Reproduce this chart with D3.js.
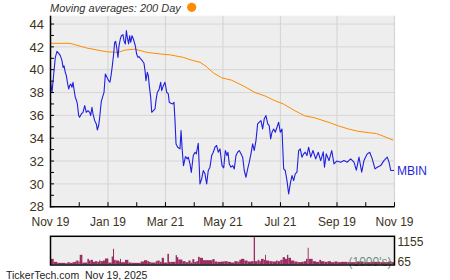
<!DOCTYPE html>
<html><head><meta charset="utf-8">
<script src="https://cdn.jsdelivr.net/npm/d3@7"></script>
<style>
body{margin:0;background:#fff;}
svg{display:block;font-family:"Liberation Sans",Arial,sans-serif;}
</style></head>
<body>
<svg id="c" width="450" height="280"></svg>
<script>
// ---- data (days since 2024-11-19) ----
const priceDays = [0,1.6,3.4,5.1,6.9,8.7,10.4,12.2,13.3,14.3,15.7,16.8,17.9,19.3,20.3,21.4,22.8,23.9,24.9,26.3,27.4,28.5,29.9,30.9,32.7,34.5,36.3,38.0,39.8,41.6,42.6,44.0,45.1,46.9,48.6,49.7,51.1,52.2,53.9,55.7,56.8,58.2,59.9,61.7,63.1,64.5,65.6,67.0,68.1,69.1,70.2,71.6,72.7,74.1,75.2,76.9,78.0,79.4,80.5,81.5,82.9,84.0,85.1,86.5,87.9,90.0,91.4,92.8,
93.9,95.7,97.4,99.2,100.3,101.3,102.7,103.8,104.8,106.3,107.4,109.1,110.9,111.9,113.3,115.1,116.9,118.0,119.7,121.5,123.3,125.0,126.0,127.9,129.7,131.0,132.1,133.2,135.0,137.4,138.5,139.8,141.1,143.2,145.1,146.2,148.0,149.4,151.5,153.3,154.7,156.8,158.6,160.4,162.1,163.9,165.7,167.4,169.2,171.0,172.7,174.5,176.3,178.0,179.8,182.0,183.8,185.5,187.3,188.3,189.7,191.5,193.3,195.0,196.8,198.6,200.3,202.1,203.9,205.6,207.4,209.2,210.9,212.7,214.5,216.2,218.0,219.8,221.5,223.3,225.1,226.8,228.6,230.5,232.1,233.6,235.0,236.8,238.5,240.3,242.1,243.8,245.6,247.4,249.1,250.9,252.7,254.4,256.2,258.0,259.7,261.5,263.3,265.0,266.8,268.6,270.3,272.1,273.9,276.1,278.5,281.4,284.1,286.7,289.4,290.7,292.6,295.5,298.4,300.8,303.7,307.9,311.4,314.9,318.5,322.0,324.5,327.3,330.2,332.6,336.1,338.7,341.4,344.3,346.7,350.3,353.8,357.3,359.2,361.0,364.5];
const price = [39.04,38.0,39.6,41.08,41.6,41.43,41.23,40.79,40.2,40.35,39.77,39.48,38.9,38.31,38.6,38.75,38.46,38.9,38.31,37.58,37.35,37.0,35.98,35.83,36.13,36.27,36.86,36.27,36.42,36.27,35.98,36.71,36.13,35.54,35.25,34.73,35.11,35.83,37.23,37.73,38.02,39.63,39.33,39.04,38.9,39.63,40.35,41.37,42.4,42.48,41.96,41.08,42.1,42.69,42.98,43.07,42.54,42.25,43.42,42.83,42.25,42.98,42.4,42.98,42.69,42.1,41.37,41.08,
41.14,40.94,40.79,40.56,39.92,39.04,39.77,39.48,38.6,37.58,36.27,36.42,36.56,37.29,38.02,38.23,38.9,38.17,38.6,38.9,38.02,37.88,37.15,37.06,37.0,37.15,35.54,33.5,33.21,33.06,34.67,32.92,31.6,32.39,32.19,32.34,31.75,31.0,32.48,32.77,32.63,33.56,30.0,30.44,31.17,30.88,30.0,31.17,31.46,32.48,32.77,33.21,33.36,32.77,33.06,31.6,31.4,32.92,32.48,32.77,31.75,31.46,31.6,31.31,32.48,32.77,32.92,32.63,32.34,31.17,30.58,31.31,31.9,32.63,33.5,32.92,33.79,35.25,35.4,35.54,34.81,35.69,35.98,35.25,35.11,33.94,34.52,34.81,34.52,34.96,35.4,34.52,34.81,31.31,31.17,30.29,29.12,30.0,30.73,30.29,30.88,31.02,32.92,33.06,32.34,32.63,32.77,32.48,33.21,32.34,32.92,32.19,32.77,32.04,32.8,31.46,32.63,32.04,32.92,31.75,32.0,31.9,32.04,31.9,32.19,31.9,31.2,32.34,31.02,32.04,32.63,32.77,32.19,31.31,31.46,31.6,32.04,32.34,31.9,31.17,31.17];

const maDays = [0,20.7,38.4,59.6,71.9,79.0,89.7,102.1,116.2,126.8,140.9,149.0,158.6,165.0,172.7,181.6,185.1,192.3,206.4,217.0,227.6,238.2,247.0,259.4,270.0,280.6,294.7,305.4,316.0,326.6,337.2,346.1,354.9,363.7];
const ma200 = [42.31,42.31,41.9,41.57,41.52,41.72,41.8,41.52,41.38,41.3,41.08,40.85,40.65,40.3,39.72,39.3,39.22,39.08,38.5,38.0,37.7,37.28,37.0,36.4,35.95,35.78,35.4,35.08,34.81,34.6,34.49,34.4,34.12,33.82];

const volDays = [0,3.4,7.2,9.0,15.4,17.9,20.3,23.2,26.0,27.4,29.5,31.0,33.8,35.5,39.1,40.8,42.6,45.1,47.2,49.7,51.5,53.2,55.7,57.8,61.4,64.9,66.3,67.4,69.1,72.7,73.7,74.8,79.0,82.6,86.1,95.7,99.2,102.7,104.5,106.3,111.6,113.3,115.8,118.0,120.4,124.0,125.7,127.5,132.8,134.2,135.6,139.9,143.4,146.3,148.7,150.5,152.6,154.7,156.5,158.3,161.8,171.7,174.2,177.0,180.9,184.4,188.0,191.5,195.0,198.6,200.3,202.1,205.7,209.2,212.7,215.6,217.0,219.8,221.6,223.3,226.2,227.6,228.6,232.2,235.7,239.3,241.0,243.8,246.3,248.8,250.9,252.3,255.2,258.7,262.2,265.8,268.6,271.1,272.9,273.9,278.2,281.7,285.2,287.0,290.5,294.1,297.6,301.1,304.7,308.2,315.3,325,332,340,350,358,362];
const volK = [228,100,60,57,40,86,57,86,114,157,114,400,71,71,228,157,185,100,128,100,157,128,157,243,71,328,656,185,157,114,228,86,185,71,57,114,171,128,100,71,128,157,100,271,71,442,100,100,385,300,200,128,86,157,71,214,100,128,314,271,171,214,114,100,114,128,100,71,128,100,185,228,157,114,128,1155,128,185,128,228,185,400,157,128,114,157,128,185,300,228,400,271,157,114,86,100,128,228,700,228,128,100,185,128,100,128,86,114,86,100,86,114,86,100,86,114,86];

const xTickDays = [0,61,122,183,244,304,365];
const xTickLabels = ["Nov 19","Jan 19","Mar 21","May 21","Jul 21","Sep 19","Nov 19"];
const xMinorDays = [30.5,91.5,152.5,213.5,274,334.5];
const yTicks = [28,30,32,34,36,38,40,42,44];
const yMinor = [29,31,33,35,37,39,41,43];
const volLabels = ["1155","65"];

// ---- setup ----
const start = Date.UTC(2024,10,19);
const toDate = d => new Date(start + d*864e5);
const svg = d3.select("#c");
const L = 50.5, R = 394.5, T = 15.7, B = 206.7;
const x = d3.scaleUtc().domain([toDate(0), toDate(365)]).range([L, R]);
const y = d3.scaleLinear().domain([28, 44.73]).range([B, T]);
const textCol = "#3d3320";

// plot background
svg.append("rect").attr("x",L).attr("y",T).attr("width",R-L).attr("height",B-T).attr("fill","#eeeeee");

// grid
svg.append("g").selectAll("line").data(yTicks).join("line")
  .attr("x1",L).attr("x2",R).attr("y1",d=>y(d)).attr("y2",d=>y(d))
  .attr("stroke","#d6d6d6").attr("stroke-width",1);
svg.append("g").selectAll("line").data(xTickDays).join("line")
  .attr("x1",d=>x(toDate(d))).attr("x2",d=>x(toDate(d))).attr("y1",T).attr("y2",B)
  .attr("stroke","#d6d6d6").attr("stroke-width",1.2);

// MA line
svg.append("path").datum(maDays.map((d,i)=>[d,ma200[i]]))
  .attr("fill","none").attr("stroke","#ff8c00").attr("stroke-width",1)
  .attr("d", d3.line().x(d=>x(toDate(d[0]))).y(d=>y(d[1])));

// price line
svg.append("path").datum(priceDays.map((d,i)=>[d,price[i]]))
  .attr("fill","none").attr("stroke","#1f1fe0").attr("stroke-width",1.1)
  .attr("stroke-linejoin","round")
  .attr("d", d3.line().x(d=>x(toDate(d[0]))).y(d=>y(d[1])));

// axes lines
svg.append("line").attr("x1",L).attr("x2",L).attr("y1",T).attr("y2",B+0.8).attr("stroke","#000").attr("stroke-width",1.5);
svg.append("line").attr("x1",L-0.7).attr("x2",R).attr("y1",B).attr("y2",B).attr("stroke","#000").attr("stroke-width",1.5);

// y ticks
svg.append("g").selectAll("line").data(yTicks.concat(yMinor)).join("line")
  .attr("x1",L).attr("x2",L+3.5).attr("y1",d=>y(d)).attr("y2",d=>y(d))
  .attr("stroke","#000").attr("stroke-width",1);
svg.append("g").selectAll("text").data(yTicks).join("text")
  .attr("x",44).attr("y",d=>y(d)).attr("dy","0.36em").attr("text-anchor","end")
  .attr("font-size",13).attr("fill",textCol).text(d=>d);

// x ticks
svg.append("g").selectAll("line").data(xTickDays.concat(xMinorDays)).join("line")
  .attr("x1",d=>x(toDate(d))).attr("x2",d=>x(toDate(d))).attr("y1",B).attr("y2",B-4.5)
  .attr("stroke","#000").attr("stroke-width",1);
svg.append("g").selectAll("text").data(xTickDays).join("text")
  .attr("x",d=>x(toDate(d))).attr("y",225.8).attr("text-anchor","middle")
  .attr("font-size",12).attr("fill",textCol).text((d,i)=>xTickLabels[i]);

// MBIN label
svg.append("text").attr("x",397).attr("y",y(price[price.length-1])).attr("dy","0.36em")
  .attr("font-size",12).attr("fill","#1f1fe0").text("MBIN");

// legend
svg.append("text").attr("x",50).attr("y",12).attr("font-size",11).attr("font-style","italic")
  .attr("fill","#333").text("Moving averages: 200 Day");
svg.append("circle").attr("cx",191.7).attr("cy",7.3).attr("r",4.6).attr("fill","#ff8c00");

// volume panel
const VT = 236.3, VB = 265;
const yv = d3.scaleLinear().domain([0,1155]).range([VB-0.8, VT+0.8]);
svg.append("rect").attr("x",L).attr("y",VT).attr("width",R-L).attr("height",VB-VT).attr("fill","#eeeeee");
svg.append("g").selectAll("rect").data(volDays).join("rect")
  .attr("x",d=>x(toDate(d)))
  .attr("width",(d,i)=>{const n = i<volDays.length-1?volDays[i+1]:365; return Math.max(0.9, x(toDate(n))-x(toDate(d)));})
  .attr("y",(d,i)=>yv(volK[i])).attr("height",(d,i)=>yv(0)-yv(volK[i]))
  .attr("fill","#9b2f62");
svg.append("text").attr("x",391.5).attr("y",266).attr("text-anchor","end")
  .attr("font-size",12).attr("fill","#5b7d66").attr("fill-opacity",0.9).text("(1000's)");
svg.append("rect").attr("x",L).attr("y",VT).attr("width",R-L).attr("height",VB-VT)
  .attr("fill","none").attr("stroke","#000").attr("stroke-width",1.5);
svg.append("text").attr("x",397.5).attr("y",241.8).attr("dy","0.36em").attr("font-size",12).attr("fill",textCol).text(volLabels[0]);
svg.append("text").attr("x",397.5).attr("y",261.8).attr("dy","0.36em").attr("font-size",12).attr("fill",textCol).text(volLabels[1]);

// footer
svg.append("text").attr("x",6).attr("y",279).attr("font-size",10.5).attr("fill","#222")
  .attr("xml:space","preserve").text("TickerTech.com  Nov 19, 2025");
</script>
</body></html>
